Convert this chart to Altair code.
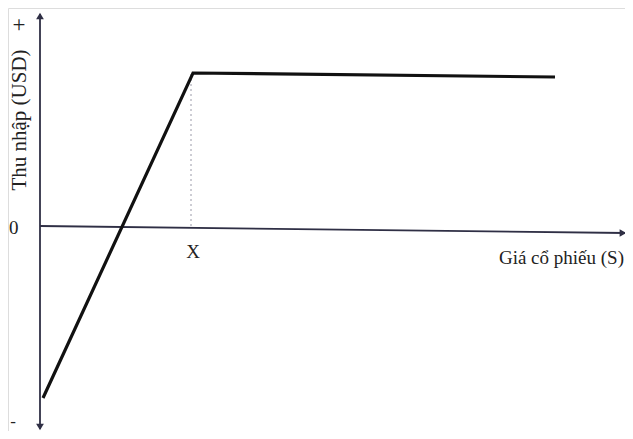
import altair as alt
import pandas as pd

# Payoff diagram (abstract units): S = stock price, P = payoff
pay_S = [3, 153, 515]
pay_P = [-172, 153, 149]

strike_S = 151
strike_top = 153

# axes geometry in data units
xaxis_S = [0, 585]
xaxis_P = [0, -7]
yaxis_S = [0, 0]
yaxis_P = [-203, 212]

FONT = "Liberation Serif"
xs = alt.Scale(domain=[-32, 585], nice=False, zero=False)
ys = alt.Scale(domain=[-205, 218], nice=False, zero=False)

def X(f="S"):
    return alt.X(f"{f}:Q", scale=xs, axis=None)

def Y(f="P"):
    return alt.Y(f"{f}:Q", scale=ys, axis=None)

pay_df = pd.DataFrame({"S": pay_S, "P": pay_P, "o": range(len(pay_S))})
xa_df = pd.DataFrame({"S": xaxis_S, "P": xaxis_P, "o": [0, 1]})
ya_df = pd.DataFrame({"S": yaxis_S, "P": yaxis_P, "o": [0, 1]})
dash_df = pd.DataFrame({"S": [strike_S, strike_S], "P": [0, strike_top], "o": [0, 1]})

axis_col = "#2f2f45"

xa = alt.Chart(xa_df).mark_line(color=axis_col, strokeWidth=1.8).encode(x=X(), y=Y(), order="o:Q")
ya = alt.Chart(ya_df).mark_line(color=axis_col, strokeWidth=1.8).encode(x=X(), y=Y(), order="o:Q")
dash = alt.Chart(dash_df).mark_line(color="#9a9aa8", strokeWidth=1, strokeDash=[2, 3]).encode(
    x=X(), y=Y(), order="o:Q")
pay = alt.Chart(pay_df).mark_line(color="#111111", strokeWidth=3.2, strokeJoin="miter").encode(
    x=X(), y=Y(), order="o:Q")

arr_df = pd.DataFrame({
    "S": [0, 0, 583],
    "P": [210, -201, -7],
    "shape": ["triangle-up", "triangle-down", "triangle-right"],
})
arrows = alt.Chart(arr_df).mark_point(filled=True, color=axis_col, size=60, opacity=1).encode(
    x=X(), y=Y(), shape=alt.Shape("shape:N", scale=None))

txt_col = "#222222"

zero_df = pd.DataFrame({"S": [-32], "P": [-2], "t": ["0"]})
zero = alt.Chart(zero_df).mark_text(font=FONT, fontSize=19, color=txt_col, align="left",
                                    baseline="middle", dx=1).encode(x=X(), y=Y(), text="t:N")

strike_df = pd.DataFrame({"S": [strike_S + 2], "P": [-26], "t": ["X"]})
strike = alt.Chart(strike_df).mark_text(font=FONT, fontSize=19, color=txt_col, align="center",
                                        baseline="middle").encode(x=X(), y=Y(), text="t:N")

xlab_df = pd.DataFrame({"S": [584], "P": [-32], "t": ["Giá cổ phiếu (S)"]})
xlab = alt.Chart(xlab_df).mark_text(font=FONT, fontSize=19, color=txt_col, align="right",
                                    baseline="middle").encode(x=X(), y=Y(), text="t:N")

plus_df = pd.DataFrame({"S": [-21], "P": [201], "t": ["+"]})
plus = alt.Chart(plus_df).mark_text(font=FONT, fontSize=23, color=txt_col, align="center",
                                    baseline="middle").encode(x=X(), y=Y(), text="t:N")

minus_df = pd.DataFrame({"S": [-27], "P": [-196], "t": ["-"]})
minus = alt.Chart(minus_df).mark_text(font=FONT, fontSize=17, color=txt_col, align="center",
                                      baseline="middle").encode(x=X(), y=Y(), text="t:N")

ylab_df = pd.DataFrame({"S": [-20], "P": [106], "t": ["Thu nhập  (USD)"]})
ylab = alt.Chart(ylab_df).mark_text(
    font=FONT, fontSize=21, color=txt_col, angle=270, align="center", baseline="middle").encode(
    x=X(), y=Y(), text="t:N")

chart = alt.layer(xa, ya, dash, pay, arrows, zero, strike, xlab, plus, minus, ylab).properties(
    width=617, height=423, padding=0, autosize=alt.AutoSizeParams(type="none")
).configure_view(stroke=None).configure(background="white")

chart.save("out.html", embed_options={"renderer": "svg", "actions": False})
